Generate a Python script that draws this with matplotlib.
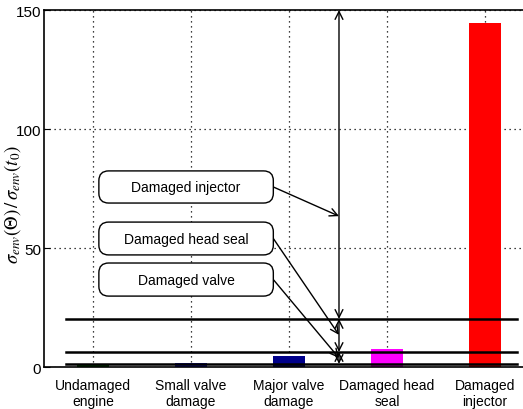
import matplotlib
matplotlib.use('Agg')
import matplotlib.pyplot as plt
from matplotlib.patches import FancyBboxPatch

plt.rcParams['font.family'] = ['Liberation Sans', 'DejaVu Sans']
plt.rcParams['mathtext.fontset'] = 'stix'

categories = ['Undamaged\nengine', 'Small valve\ndamage', 'Major valve\ndamage',
              'Damaged head\nseal', 'Damaged\ninjector']
values = [1.0, 1.6, 4.6, 7.4, 144.5]
colors = ['#006400', '#1a1acc', '#00008b', '#ff00ff', '#ff0000']

thresholds = [1.3, 6.3, 20.2]
top_level = 150
labels = ['Damaged injector', 'Damaged head seal', 'Damaged valve']
box_ranges = [(68.9, 82.4), (47.1, 60.9), (29.8, 43.7)]
arrow_targets = [63.4, 13.5, 3.8]

fig = plt.figure(figsize=(5.23, 4.10), dpi=100)
ax = fig.add_axes([0.0841, 0.1024, 0.937, 0.8707])

x = list(range(1, len(categories) + 1))
ax.bar(x, values, width=0.33, color=colors, zorder=2)

ax.set_xlim(0.5, 5.5)
ax.set_ylim(0, 150)
ax.set_yticks([0, 50, 100, 150])
ax.set_xticks(x)
ax.set_xticklabels(categories, fontsize=10)
ax.tick_params(axis='y', labelsize=11, direction='in', length=4, pad=2)
ax.tick_params(axis='x', direction='in', length=0, pad=8)
ax.grid(True, linestyle=(0, (1, 3)), color='black', linewidth=0.9)
ax.set_axisbelow(True)
for s in ax.spines.values():
    s.set_linewidth(1.2)

ax.set_ylabel(r'$\sigma_{env}(\Theta)\,/\,\sigma_{env}(t_0)$', fontsize=13.5)
ax.yaxis.set_label_coords(-0.043, 0.457)

# threshold lines
for t in thresholds:
    ax.plot([0.72, 5.33], [t, t], color='black', linewidth=1.8, zorder=3)

# vertical double arrows between levels
xa = 3.51
levels = [top_level] + thresholds[::-1]
for lo, hi in zip(levels[1:], levels[:-1]):
    ax.annotate('', xy=(xa, hi), xytext=(xa, lo),
                arrowprops=dict(arrowstyle='<->', color='black', lw=1.0,
                                shrinkA=0, shrinkB=0, mutation_scale=14), zorder=4)

# label boxes with arrows
asp = (150 / 357) / (1 / 98)
for lab, (y0, y1), ty in zip(labels, box_ranges, arrow_targets):
    box = FancyBboxPatch((1.06, y0), 2.84 - 1.06, y1 - y0,
                         boxstyle='round,pad=0,rounding_size=0.1',
                         mutation_aspect=asp, facecolor='white',
                         edgecolor='black', linewidth=1.0, zorder=5)
    ax.add_patch(box)
    ax.text((1.06 + 2.84) / 2, (y0 + y1) / 2, lab, ha='center', va='center',
            fontsize=10, zorder=6)
    ax.annotate('', xy=(xa, ty), xytext=(2.84, (y0 + y1) / 2),
                arrowprops=dict(arrowstyle='->', color='black', lw=1.0,
                                shrinkA=0, shrinkB=0, mutation_scale=14), zorder=4)

fig.savefig('out.png', dpi=100)
